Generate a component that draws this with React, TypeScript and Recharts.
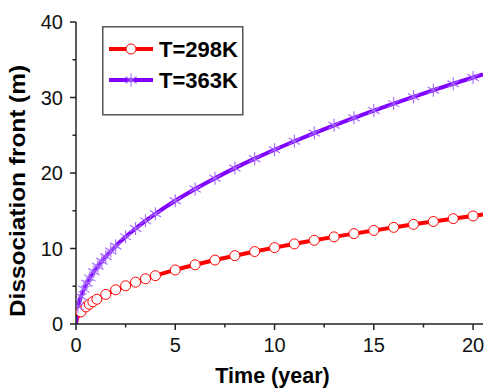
import { Legend, Line, LineChart, XAxis, YAxis } from 'recharts';

const FONT = '"Liberation Sans", Arial, sans-serif';
const RED = '#ff0000';
const PURPLE = '#7f00ff';
const STAR = '#a466ff';

// T=298K curve
const redTimes = [0, 0.05, 0.1, 0.25, 0.5, 0.67, 0.85, 1.05, 1.5, 2, 2.5, 3, 3.5, 4, 5, 6, 7, 8, 9, 10, 11, 12, 13, 14, 15, 16, 17, 18, 19, 20, 20.5];
const redValues = [0, 0.72, 1.01, 1.6, 2.26, 2.62, 2.95, 3.28, 3.92, 4.53, 5.06, 5.54, 5.99, 6.4, 7.16, 7.84, 8.47, 9.05, 9.6, 10.12, 10.61, 11.09, 11.54, 11.97, 12.39, 12.8, 13.2, 13.58, 13.95, 14.31, 14.49];
const redMarks = [0.25, 0.5, 0.67, 0.85, 1.05, 1.5, 2, 2.5, 3, 3.5, 4, 5, 6, 7, 8, 9, 10, 11, 12, 13, 14, 15, 16, 17, 18, 19, 20];

// T=363K curve
const purpleTimes = [0, 0.02, 0.05, 0.1, 0.25, 0.4, 0.55, 0.7, 0.9, 1.1, 1.3, 1.5, 1.75, 2, 2.5, 3, 3.5, 4, 5, 6, 7, 8, 9, 10, 11, 12, 13, 14, 15, 16, 17, 18, 19, 20, 20.5];
const purpleValues = [0, 1.03, 1.63, 2.31, 3.65, 4.62, 5.41, 6.11, 6.93, 7.66, 8.32, 8.94, 9.66, 10.32, 11.54, 12.64, 13.66, 14.6, 16.32, 17.88, 19.31, 20.65, 21.9, 23.08, 24.21, 25.29, 26.32, 27.31, 28.27, 29.19, 30.09, 30.96, 31.82, 32.65, 33.05];
const purpleMarks = [0.1, 0.25, 0.4, 0.55, 0.7, 0.9, 1.1, 1.3, 1.5, 1.75, 2, 2.5, 3, 3.5, 4, 5, 6, 7, 8, 9, 10, 11, 12, 13, 14, 15, 16, 17, 18, 19, 20];

const xTicks = [0, 2.5, 5, 7.5, 10, 12.5, 15, 17.5, 20];
const yTicks = [0, 5, 10, 15, 20, 25, 30, 35, 40];
const seriesNames = ['T=298K', 'T=363K'];

const redData = redTimes.map((t, i) => ({ t, v: redValues[i], m: redMarks.includes(t) }));
const purpleData = purpleTimes.map((t, i) => ({ t, v: purpleValues[i], m: purpleMarks.includes(t) }));

function Circle({ cx, cy }: { cx: number; cy: number }) {
  return <circle cx={cx} cy={cy} r={5} fill="#fff" stroke={RED} strokeWidth={1} />;
}

function Star({ cx, cy }: { cx: number; cy: number }) {
  const s = 6.5;
  const dx = s * 0.87;
  const dy = s * 0.5;
  return (
    <g stroke={STAR} strokeWidth={1.1}>
      <line x1={cx} y1={cy - s} x2={cx} y2={cy + s} />
      <line x1={cx - dx} y1={cy - dy} x2={cx + dx} y2={cy + dy} />
      <line x1={cx - dx} y1={cy + dy} x2={cx + dx} y2={cy - dy} />
    </g>
  );
}

const redDot = (p: any) =>
  p.payload.m ? <Circle key={p.index} cx={p.cx} cy={p.cy} /> : <g key={p.index} />;
const purpleDot = (p: any) =>
  p.payload.m ? <Star key={p.index} cx={p.cx} cy={p.cy} /> : <g key={p.index} />;

function XTick({ x, y, payload }: any) {
  const major = payload.value % 5 === 0;
  return (
    <g>
      <line x1={x} y1={y} x2={x} y2={y + (major ? 6 : 3.5)} stroke="#222" strokeWidth={1.5} />
      {major && (
        <text x={x} y={y + 28} textAnchor="middle" fontSize={20} fontFamily={FONT} fill="#111">
          {payload.value}
        </text>
      )}
    </g>
  );
}

function YTick({ x, y, payload }: any) {
  const major = payload.value % 10 === 0;
  return (
    <g>
      <line x1={x} y1={y} x2={x - (major ? 6 : 3.5)} y2={y} stroke="#222" strokeWidth={1.5} />
      {major && (
        <text x={x - 13} y={y + 7} textAnchor="end" fontSize={20} fontFamily={FONT} fill="#111">
          {payload.value}
        </text>
      )}
    </g>
  );
}

function LegendBox() {
  const rows = [
    { name: seriesNames[0], color: RED, mark: 'circle' },
    { name: seriesNames[1], color: PURPLE, mark: 'star' },
  ];
  return (
    <svg width={142} height={90} style={{ display: 'block' }}>
      <rect x={0.75} y={0.75} width={140} height={88} fill="#fff" stroke="#555" strokeWidth={1.5} />
      {rows.map((r, i) => {
        const cy = 23 + i * 31;
        return (
          <g key={r.name}>
            <line x1={7} y1={cy} x2={51} y2={cy} stroke={r.color} strokeWidth={4} />
            {r.mark === 'circle' ? <Circle cx={29} cy={cy} /> : <Star cx={29} cy={cy} />}
            <text x={57} y={cy + 8} fontSize={22} fontWeight="bold" fontFamily={FONT} fill="#000">
              {r.name}
            </text>
          </g>
        );
      })}
    </svg>
  );
}

export default function App() {
  return (
    <div style={{ position: 'absolute', left: 0, top: 0, background: '#fff' }}>
      <LineChart width={487} height={389} margin={{ top: 22, right: 4, bottom: 0, left: 0 }}>
        <XAxis
          dataKey="t"
          type="number"
          domain={[0, 20.5]}
          ticks={xTicks}
          allowDataOverflow
          height={65}
          tickSize={0}
          tickMargin={0}
          tick={XTick}
          tickLine={false}
          axisLine={{ stroke: '#222', strokeWidth: 1.5 }}
          label={() => (
            <text x={272.5} y={383} textAnchor="middle" fontSize={21.5} fontWeight="bold" fontFamily={FONT} fill="#000">
              Time (year)
            </text>
          )}
        />
        <YAxis
          type="number"
          domain={[0, 40]}
          ticks={yTicks}
          width={76}
          tickSize={0}
          tickMargin={0}
          tick={YTick}
          tickLine={false}
          axisLine={{ stroke: '#222', strokeWidth: 1.5 }}
          label={() => (
            <text
              transform="translate(25,191) rotate(-90)"
              textAnchor="middle"
              fontSize={21.5}
              fontWeight="bold"
              fontFamily={FONT}
              fill="#000"
              textLength={252}
              lengthAdjust="spacingAndGlyphs"
            >
              Dissociation front (m)
            </text>
          )}
        />
        <Legend
          layout="horizontal"
          verticalAlign="middle"
          align="center"
          wrapperStyle={{ left: 102, top: 26, width: 142, height: 90 }}
          content={() => <LegendBox />}
        />
        <Line
          data={redData}
          dataKey="v"
          type="monotone"
          stroke={RED}
          strokeWidth={4}
          dot={redDot}
          activeDot={false}
          isAnimationActive={false}
        />
        <Line
          data={purpleData}
          dataKey="v"
          type="monotone"
          stroke={PURPLE}
          strokeWidth={4}
          dot={purpleDot}
          activeDot={false}
          isAnimationActive={false}
        />
      </LineChart>
    </div>
  );
}
